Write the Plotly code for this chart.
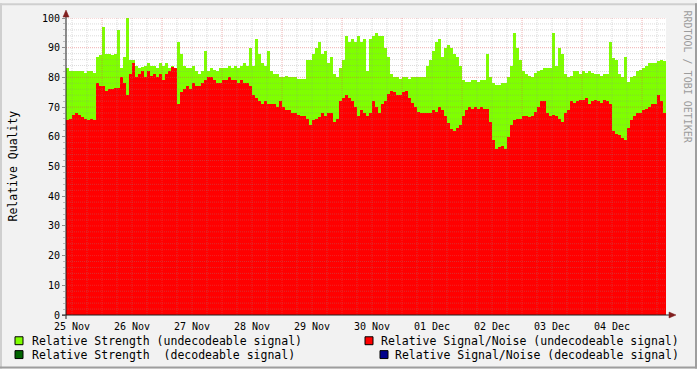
import datetime as dt
import plotly.graph_objects as go

# ---------------- data ----------------
DAY_LABELS = ["25 Nov", "26 Nov", "27 Nov", "28 Nov", "29 Nov",
              "30 Nov", "01 Dec", "02 Dec", "03 Dec", "04 Dec"]
START = dt.datetime(2009, 11, 25, 9, 36)
STEP_MIN = 72
N_STEPS = 200

strength_undecodeable = [
    83, 82, 82, 82, 82, 82, 81.5, 82, 82, 81.5,
    87, 87.5, 97, 88, 88, 87.5, 88, 96, 83, 87, 100, 86,
    86, 84, 83, 83.5, 84, 85, 84, 84, 83, 85, 84, 85, 83, 84, 83, 92, 88, 84,
    83, 83, 84, 82, 81, 82, 89, 82,
    83, 82.5, 82, 83, 83, 83, 84, 83, 84, 83, 84, 85, 84, 90, 84, 93, 88, 85,
    84, 89, 82, 81, 81, 80, 80, 80.5, 80, 80, 80, 79.5, 79.5, 79.5, 86, 86,
    88, 90, 92, 88, 89, 85, 87, 81, 80, 83, 86, 94, 92, 93, 92, 94, 92, 93,
    82, 93, 94, 95, 94, 94, 90, 87, 81, 80, 80, 79.5, 80, 80, 79.5, 80, 80,
    80, 80, 80, 84, 86,
    89, 92, 93, 87, 90, 91, 90, 88, 87, 84,
    79, 78.5, 78.5, 79, 79, 78.5, 79, 79, 88, 80, 78, 77.5, 77.5, 78, 78, 80,
    84, 95, 90, 86, 82, 81, 80.5, 80, 81.5, 82, 82.5, 83, 83, 83, 95, 84, 90,
    88, 81, 80, 80.5, 82, 82, 81, 82, 81.5, 82, 81.5, 81, 81, 80.5, 81, 81,
    92, 86.5, 86, 81, 80, 87, 78.5, 80, 80.5, 82, 82.5, 83, 84, 85, 85, 85,
    85.5, 86, 85.5,
]
snr_undecodeable = [
    65.5, 66, 67.5, 68, 67.5, 66.5, 66, 65.5, 66, 65.5,
    78, 77, 77, 75.5, 76, 76, 76.5, 76.5, 80, 78, 74, 81,
    85, 80, 81, 82, 80, 82, 80.5, 81, 80, 81, 79, 81, 82, 83.5, 83, 71, 75, 76,
    77, 76, 78, 77, 77, 78, 79, 80,
    80, 79, 78, 78, 79, 79, 80, 79, 79, 78, 79, 78, 78, 77, 74, 73, 72, 71,
    72, 71, 71, 71, 70, 72, 70, 69, 69, 68, 68, 67.5, 67, 67, 66, 64, 65.5,
    66, 66.5, 68, 67, 68, 68, 65, 66, 72, 73, 74, 73, 72, 70, 67, 69, 68,
    67, 68, 72, 70, 68, 71, 72, 74.5, 75.5, 75, 74, 74, 75, 75.5, 73, 71.5,
    70, 68.5, 68, 68, 68, 68, 69, 68.5, 70, 69, 67, 64.5, 62.5, 62, 63, 64,
    67, 69, 70, 69.5, 70, 69.5, 70, 69.5, 69.5, 65, 59, 56, 56.5, 57, 56, 60,
    64, 65.5, 66, 66, 67, 67, 66.5, 67, 68.5, 70, 72, 72, 68, 67, 67.5, 67,
    66, 65, 68, 69, 72, 71.5, 72, 72.5, 72.5, 73, 71, 72, 72.5, 72, 71.5,
    72.5, 72, 71, 62, 61, 60.5, 59.5, 59, 63, 65.5, 67, 68, 68, 69, 69.5, 70,
    71, 71, 74, 72, 68,
]
# decodeable-signal series have no data in this period
strength_decodeable = []
snr_decodeable = []

Y_MAJOR = list(range(0, 101, 10))
Y_MINOR = list(range(2, 101, 2))

# ---------------- styling ----------------
FONT = "DejaVu Sans Mono"
C_STRENGTH = "#7FFF00"
C_SNR = "#FF0000"
C_STRENGTH_D = "#006400"
C_SNR_D = "#00008B"
BG = "#F2F2F2"

step = dt.timedelta(minutes=STEP_MIN)
times = [START + step * (i + 0.5) for i in range(N_STEPS)]
x0 = START
x1 = START + step * N_STEPS
bar_w = STEP_MIN * 60 * 1000

fig = go.Figure()
fig.add_trace(go.Bar(x=times, y=strength_undecodeable, width=bar_w,
                     marker=dict(color=C_STRENGTH, line=dict(width=0)),
                     name="Relative Strength (undecodeable signal)"))
fig.add_trace(go.Bar(x=times, y=snr_undecodeable, width=bar_w,
                     marker=dict(color=C_SNR, line=dict(width=0)),
                     name="Relative Signal/Noise (undecodeable signal)"))

W, H = 697, 369
ML, MR, MT, MB = 66, 31, 15, 54
PW, PH = W - ML - MR, H - MT - MB


def px(xp):
    return (xp - ML) / PW


def py(yp):
    return (H - MB - yp) / PH


shapes = []
# grid (drawn above the data like rrdtool)
minor_col = "rgba(143,143,143,0.32)"
major_col = "rgba(222,79,79,0.45)"
for v in Y_MINOR:
    if v % 10 == 0:
        continue
    shapes.append(dict(type="line", xref="paper", yref="y", x0=0, x1=1, y0=v, y1=v,
                       line=dict(color=minor_col, width=1, dash="1px,1px"), layer="above"))
t = dt.datetime(START.year, START.month, START.day)
while t <= x1:
    if t > x0:
        col = major_col if t.hour == 0 else minor_col
        shapes.append(dict(type="line", xref="x", yref="paper", x0=t, x1=t, y0=0, y1=1,
                           line=dict(color=col, width=1, dash="1px,1px"), layer="above"))
    t += dt.timedelta(hours=6)
for v in Y_MAJOR[1:]:
    shapes.append(dict(type="line", xref="paper", yref="y", x0=0, x1=1, y0=v, y1=v,
                       line=dict(color=major_col, width=1, dash="1px,1px"), layer="above"))

# axes with arrows
AX = "#1F1F1F"
ARROW = "#801F1F"
shapes.append(dict(type="line", xref="paper", yref="paper", x0=px(62), x1=px(671),
                   y0=0, y1=0, line=dict(color=AX, width=1), layer="above"))
shapes.append(dict(type="line", xref="paper", yref="paper", x0=0, x1=0,
                   y0=py(319), y1=py(12), line=dict(color=AX, width=1), layer="above"))
shapes.append(dict(type="path", xref="paper", yref="paper",
                   path=f"M {px(669)} {py(312)} L {px(676)} {py(315)} L {px(669)} {py(318)} Z",
                   fillcolor=ARROW, line=dict(color=ARROW, width=0.5), layer="above"))
shapes.append(dict(type="path", xref="paper", yref="paper",
                   path=f"M {px(63)} {py(14)} L {px(66)} {py(7)} L {px(69)} {py(14)} Z",
                   fillcolor=ARROW, line=dict(color=ARROW, width=0.5), layer="above"))

# frame shading
shapes.append(dict(type="line", xref="paper", yref="paper", x0=px(0), x1=px(W), y0=py(1), y1=py(1),
                   line=dict(color="#CFCFCF", width=2)))
shapes.append(dict(type="line", xref="paper", yref="paper", x0=px(1), x1=px(1), y0=py(0), y1=py(H),
                   line=dict(color="#CFCFCF", width=2)))
shapes.append(dict(type="line", xref="paper", yref="paper", x0=px(0), x1=px(W), y0=py(H - 1), y1=py(H - 1),
                   line=dict(color="#9E9E9E", width=2)))
shapes.append(dict(type="line", xref="paper", yref="paper", x0=px(W - 1), x1=px(W - 1), y0=py(0), y1=py(H),
                   line=dict(color="#9E9E9E", width=2)))

annotations = []
# legend
legend_items = [
    ("Relative Strength (undecodeable signal)", C_STRENGTH, 15, 30, 341, "left"),
    ("Relative Strength  (decodeable signal)", C_STRENGTH_D, 15, 30, 355, "left"),
    ("Relative Signal/Noise (undecodeable signal)", C_SNR, 365, 681, 341, "right"),
    ("Relative Signal/Noise (decodeable signal)", C_SNR_D, 380, 681, 355, "right"),
]
for text, col, sx, tx, cy, anchor in legend_items:
    shapes.append(dict(type="rect", xref="paper", yref="paper",
                       x0=px(sx), x1=px(sx + 8), y0=py(cy + 4), y1=py(cy - 4),
                       fillcolor=col, line=dict(color="black", width=1)))
    annotations.append(dict(text=text, xref="paper", yref="paper", x=px(tx), y=py(cy),
                            xanchor=anchor, yanchor="middle", showarrow=False,
                            font=dict(family=FONT, size=11.5, color="black")))

annotations.append(dict(text="Relative Quality", xref="paper", yref="paper",
                        x=px(12), y=py(165), textangle=-90, showarrow=False,
                        xanchor="center", yanchor="middle",
                        font=dict(family=FONT, size=11.5, color="black")))
annotations.append(dict(text="RRDTOOL / TOBI OETIKER", xref="paper", yref="paper",
                        x=px(688), y=py(74), textangle=90, showarrow=False,
                        xanchor="center", yanchor="middle",
                        font=dict(family=FONT, size=10, color="#9C9C9C")))

noon_ticks = [dt.datetime(2009, 11, 25, 12) + dt.timedelta(days=d) for d in range(len(DAY_LABELS))]

fig.update_layout(
    width=W, height=H, autosize=False,
    margin=dict(l=ML, r=MR, t=MT, b=MB, pad=0),
    paper_bgcolor=BG, plot_bgcolor="white",
    barmode="overlay", bargap=0, showlegend=False,
    font=dict(family=FONT, size=10, color="black"),
    shapes=shapes, annotations=annotations,
    xaxis=dict(type="date", range=[x0, x1], tickmode="array", tickvals=noon_ticks,
               ticktext=DAY_LABELS, showgrid=False, zeroline=False, showline=False,
               ticks="", ticklabelstandoff=4,
               tickfont=dict(family=FONT, size=10, color="black"), fixedrange=True),
    yaxis=dict(range=[0, 100], tickmode="array", tickvals=Y_MAJOR,
               showgrid=False, zeroline=False, showline=False,
               ticks="outside", ticklen=3, tickcolor="#8F8F8F",
               minor=dict(tickmode="array", tickvals=Y_MINOR, ticks="outside", ticklen=2,
                          tickcolor="#BBBBBB", showgrid=False),
               tickfont=dict(family=FONT, size=10, color="black"), fixedrange=True),
)

fig.write_html("out.html")
